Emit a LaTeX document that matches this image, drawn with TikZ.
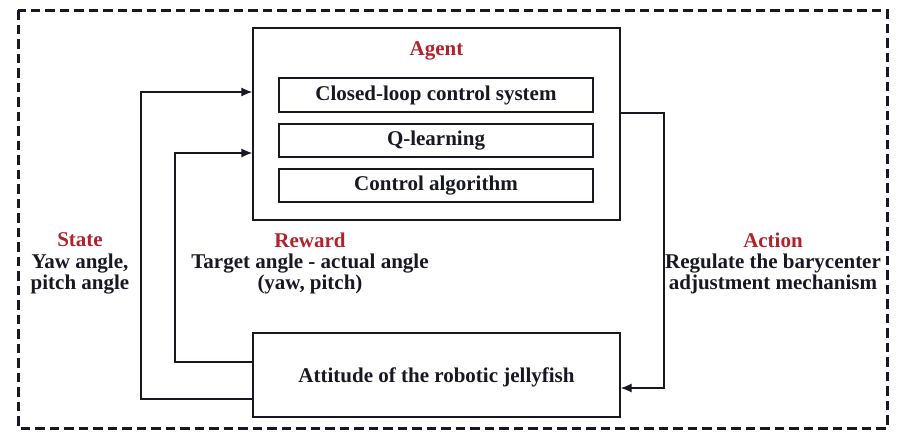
\documentclass[tikz,border=0pt]{standalone}
\usepackage{fontspec}
\setmainfont{Liberation Serif}
\usetikzlibrary{arrows.meta}
\definecolor{titlered}{RGB}{178,34,44}
\definecolor{ink}{RGB}{24,24,36}
\newcommand{\labelfont}{\rmfamily\bfseries\fontsize{21}{21.5}\selectfont}
\begin{document}
\begin{tikzpicture}[x=1pt,y=-1pt,
  box/.style={draw=ink,line width=1.3pt,inner sep=0pt},
  txt/.style={font=\labelfont,text=ink,align=center,inner sep=0pt},
  ttl/.style={font=\labelfont,text=titlered,inner sep=0pt},
  link/.style={draw=ink,line width=1.3pt},
  arr/.style={link,-{Latex[length=11pt,width=9pt]}}]
\useasboundingbox (0,0) rectangle (898,432);
% outer dashed frame
\draw[draw=ink,line width=3pt,dash pattern=on 9.5pt off 5pt] (18,10) rectangle (887,428);
% agent block with its three parts
\node[box,minimum width=367pt,minimum height=192pt] (agent) at (436.5,124) {};
\node[ttl] (agentT) at (436.5,51) {Agent};
\node[box,minimum width=314pt,minimum height=34pt,txt] (cls) at (436,95) {Closed-loop control system};
\node[box,minimum width=314pt,minimum height=33pt,txt] (ql) at (436,140.5) {Q-learning};
\node[box,minimum width=314pt,minimum height=33pt,txt] (ca) at (436,185.5) {Control algorithm};
% environment block
\node[box,minimum width=367pt,minimum height=84pt] (att) at (436.5,375) {};
\node[txt] (attT) at (436.5,377) {Attitude of the robotic jellyfish};
% loop corners
\coordinate (s1) at (141,399);
\coordinate (s2) at (141,92);
\coordinate (r1) at (175,362);
\coordinate (r2) at (175,153);
\coordinate (a1) at (664,113);
\coordinate (a2) at (664,388);
\draw[arr] (att.west |- s1) -- (s1) -- (s2) -- (agent.west |- s2);
\draw[arr] (att.west |- r1) -- (r1) -- (r2) -- (agent.west |- r2);
\draw[arr] (agent.east |- a1) -- (a1) -- (a2) -- (att.east |- a2);
% labels
\node[ttl] (stT) at (80,240) {State};
\node[txt] (stL) at (80,274) {Yaw angle,\\pitch angle};
\node[ttl] (rwT) at (310,240) {Reward};
\node[txt] (rwL) at (310,274) {Target angle - actual angle\\(yaw, pitch)};
\node[ttl] (acT) at (773,240) {Action};
\node[txt] (acL) at (773,274) {Regulate the barycenter\\adjustment mechanism};
\end{tikzpicture}
\end{document}
